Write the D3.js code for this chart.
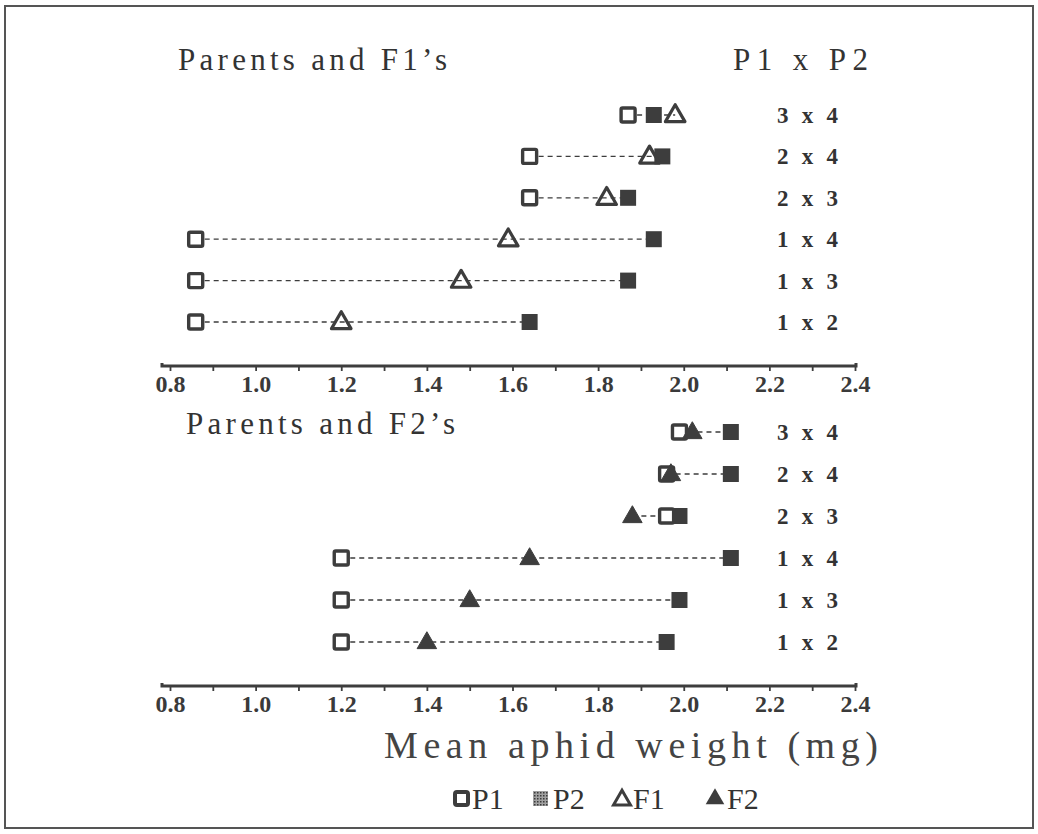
<!DOCTYPE html>
<html>
<head>
<meta charset="utf-8">
<script src="https://cdn.jsdelivr.net/npm/d3@7"></script>
<style>
  html, body { margin: 0; padding: 0; background: #fff; }
  svg { display: block; }
</style>
</head>
<body>
<script>
// Crosses (P1 x P2), listed top to bottom
const crosses = ["3 x 4", "2 x 4", "2 x 3", "1 x 4", "1 x 3", "1 x 2"];

// Parents and F1's: mean aphid weight (mg)
const f1P1 = [1.87, 1.64, 1.64, 0.86, 0.86, 0.86];
const f1P2 = [1.93, 1.95, 1.87, 1.93, 1.87, 1.64];
const f1F1 = [1.98, 1.92, 1.82, 1.59, 1.48, 1.20];

// Parents and F2's: mean aphid weight (mg)
const f2P1 = [1.99, 1.96, 1.96, 1.20, 1.20, 1.20];
const f2P2 = [2.11, 2.11, 1.99, 2.11, 1.99, 1.96];
const f2F2 = [2.02, 1.97, 1.88, 1.64, 1.50, 1.40];

const xTickLabels = [0.8, 1.0, 1.2, 1.4, 1.6, 1.8, 2.0, 2.2, 2.4];
const xMinorTicks = d3.range(8, 25).map(d => d / 10);

const ink = "#3d3d3d";
const W = 1038, H = 834;

const svg = d3.select("body").append("svg")
  .attr("width", W).attr("height", H);

// speckled fill used for the P2 legend key
const defs = svg.append("defs");
const pat = defs.append("pattern").attr("id", "hatch")
  .attr("width", 3).attr("height", 3).attr("patternUnits", "userSpaceOnUse");
pat.append("rect").attr("width", 3).attr("height", 3).attr("fill", "#a0a0a0");
pat.append("rect").attr("width", 1.5).attr("height", 1.5).attr("fill", "#3a3a3a");

// outer frame
svg.append("rect").attr("x", 5).attr("y", 6).attr("width", 1028).attr("height", 822)
  .attr("fill", "none").attr("stroke", "#555").attr("stroke-width", 2);

const x = d3.scaleLinear().domain([0.8, 2.4]).range([170, 855]);

const serif = "'Liberation Serif', 'DejaVu Serif', serif";

function panel(opts) {
  const g = svg.append("g");
  const y = d3.scalePoint().domain(crosses).range(opts.rowRange);

  // panel title
  g.append("text").attr("x", opts.titleX).attr("y", opts.titleY)
    .style("font-family", serif).style("font-size", "31px").attr("fill", "#333")
    .attr("textLength", 269).attr("lengthAdjust", "spacing")
    .text(opts.title);

  // axis line with minor ticks every 0.1
  const axis = d3.axisBottom(x).tickValues(xMinorTicks).tickSize(5).tickFormat("");
  const ax = g.append("g").attr("transform", `translate(0,${opts.axisY})`).call(axis);
  ax.select(".domain").attr("stroke", ink).attr("stroke-width", 3)
    .attr("d", `M${x(0.8) - 8},-3V0H${x(2.4) + 1}V-3`);
  ax.selectAll(".tick line").attr("stroke", ink).attr("stroke-width", 1.8);

  // tick labels every 0.2
  const lab = d3.axisBottom(x).tickValues(xTickLabels).tickSize(0).tickPadding(0)
    .tickFormat(d3.format(".1f"));
  const lx = g.append("g").attr("transform", `translate(0,${opts.axisY + 7})`).call(lab);
  lx.select(".domain").remove();
  lx.selectAll("text")
    .style("font-family", serif).style("font-weight", "bold").style("font-size", "24px")
    .attr("fill", "#3a3a3a").attr("dy", "0.78em");

  const rows = crosses.map((c, i) => ({
    c, p1: opts.p1[i], p2: opts.p2[i], f: opts.f[i]
  }));

  // dashed connectors
  g.selectAll("line.conn").data(rows).join("line").attr("class", "conn")
    .attr("x1", d => x(Math.min(d.p1, d.p2, d.f)))
    .attr("x2", d => x(Math.max(d.p1, d.p2, d.f)))
    .attr("y1", d => y(d.c)).attr("y2", d => y(d.c))
    .attr("stroke", ink).attr("stroke-width", 1.3).attr("stroke-dasharray", "5,4");

  // P2: filled square
  g.selectAll("rect.p2").data(rows).join("rect").attr("class", "p2")
    .attr("x", d => x(d.p2) - 8).attr("y", d => y(d.c) - 8)
    .attr("width", 16).attr("height", 16).attr("fill", ink);

  // P1: open square
  g.selectAll("rect.p1").data(rows).join("rect").attr("class", "p1")
    .attr("x", d => x(d.p1) - 7).attr("y", d => y(d.c) - 7)
    .attr("width", 14).attr("height", 14).attr("rx", 1.5)
    .attr("fill", "#fff").attr("stroke", ink).attr("stroke-width", 3.4);

  // F1 (open) or F2 (filled) triangle
  const tri = d3.symbol().type(d3.symbolTriangle).size(165);
  g.selectAll("path.f").data(rows).join("path").attr("class", "f")
    .attr("d", tri)
    .attr("transform", d => `translate(${x(d.f)},${y(d.c) + 1})`)
    .attr("fill", opts.filled ? ink : "none")
    .attr("stroke", ink).attr("stroke-width", opts.filled ? 1 : 3.2)
    .attr("stroke-linejoin", "round");

  // cross labels
  g.selectAll("text.cross").data(rows).join("text").attr("class", "cross")
    .attr("x", 777).attr("y", d => y(d.c) + 8)
    .style("font-family", serif).style("font-weight", "bold")
    .style("font-size", "23px").attr("fill", "#333")
    .attr("textLength", 61).attr("lengthAdjust", "spacing")
    .text(d => d.c);
}

panel({
  title: "Parents and F1\u2019s", titleX: 178, titleY: 70,
  rowRange: [115, 322], axisY: 366,
  p1: f1P1, p2: f1P2, f: f1F1, filled: false
});

panel({
  title: "Parents and F2\u2019s", titleX: 186, titleY: 434,
  rowRange: [432, 642], axisY: 686,
  p1: f2P1, p2: f2P2, f: f2F2, filled: true
});

// column header
svg.append("text").attr("x", 733).attr("y", 70)
  .style("font-family", serif).style("font-size", "31px").attr("fill", "#333")
  .attr("textLength", 135).attr("lengthAdjust", "spacing")
  .text("P1 x P2");

// axis title
svg.append("text").attr("x", 384).attr("y", 758)
  .style("font-family", serif).style("font-size", "38px").attr("fill", "#444")
  .attr("textLength", 494).attr("lengthAdjust", "spacing")
  .text("Mean aphid weight (mg)");

// legend
const legY = 799;
const lg = svg.append("g");
lg.append("rect").attr("x", 455).attr("y", legY - 7).attr("width", 13).attr("height", 13)
  .attr("rx", 2).attr("fill", "#fff").attr("stroke", ink).attr("stroke-width", 4);
lg.append("rect").attr("x", 533).attr("y", legY - 8).attr("width", 15).attr("height", 15)
  .attr("fill", "url(#hatch)");
lg.append("path").attr("d", d3.symbol().type(d3.symbolTriangle).size(125))
  .attr("transform", `translate(622,${legY + 1})`)
  .attr("fill", "none").attr("stroke", ink).attr("stroke-width", 3);
lg.append("path").attr("d", d3.symbol().type(d3.symbolTriangle).size(150))
  .attr("transform", `translate(715,${legY})`)
  .attr("fill", ink);
const legText = [["P1", 472], ["P2", 553], ["F1", 633], ["F2", 727]];
lg.selectAll("text").data(legText).join("text")
  .attr("x", d => d[1]).attr("y", legY + 10)
  .style("font-family", serif).style("font-size", "30px").attr("fill", "#333")
  .text(d => d[0]);
</script>
</body>
</html>
